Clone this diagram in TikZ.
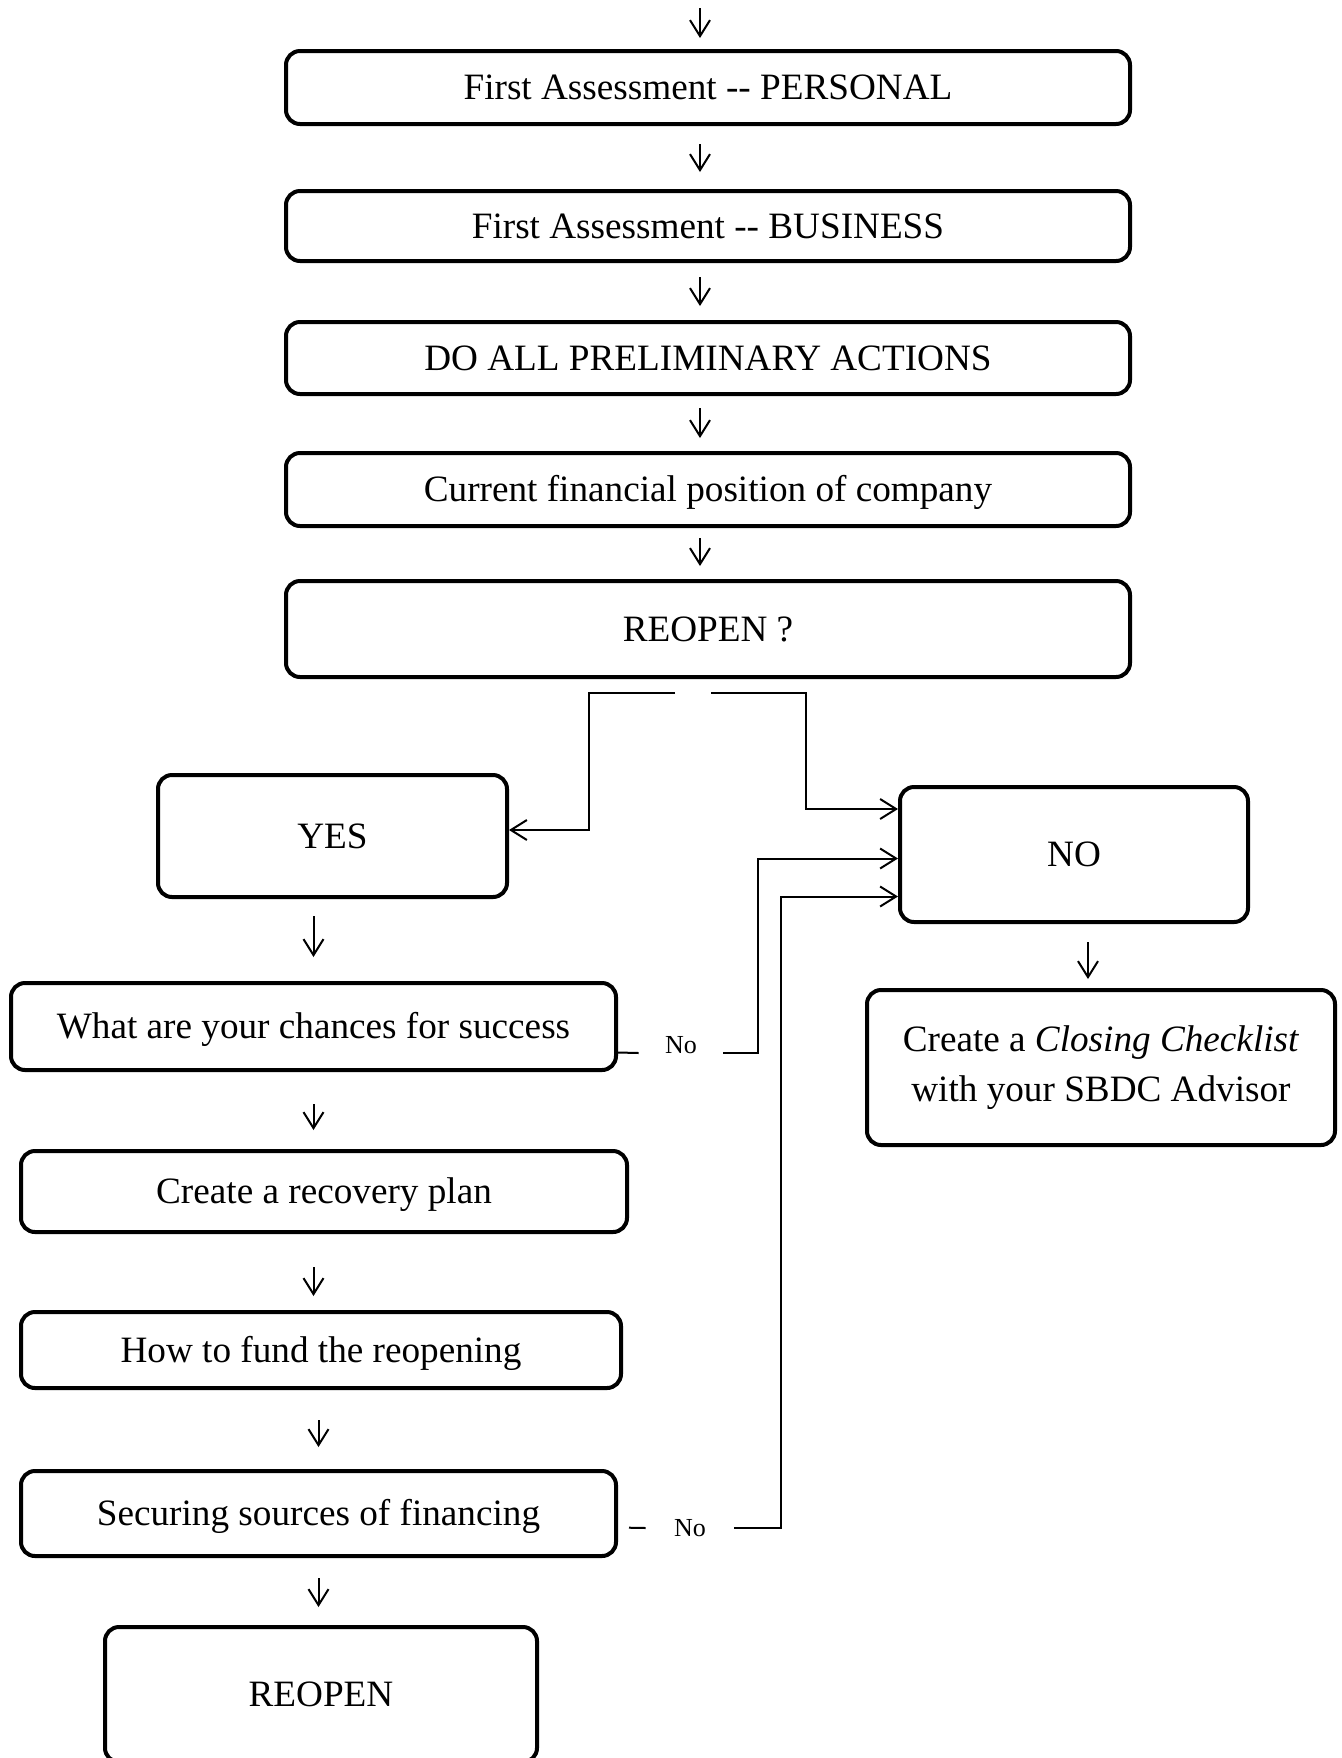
\documentclass[tikz,border=0pt]{standalone}
\usepackage{fontspec}
\setmainfont{Liberation Serif}
\usetikzlibrary{arrows.meta}
\begin{document}
\begin{tikzpicture}[
 x=0.5pt,y=-0.5pt,
 procbox/.style={draw,line width=2pt,rounded corners=7pt,
  font=\fontsize{18.6}{25}\selectfont,align=center,inner sep=0pt},
 oneline/.style={procbox,text height=12.3pt,text depth=0pt},
 arr/.style={line width=1pt,-{Straight Barb[length=8pt,width=10pt]}},
 link/.style={line width=1pt},
 nolabel/.style={font=\fontsize{13}{15}\selectfont,inner ysep=0pt}
]
\useasboundingbox (0,0) rectangle (1341,1758);
% main column
\node[oneline,minimum width=422pt,minimum height=36.5pt] (p1) at (708,87.5) {First Assessment -{}- PERSONAL};
\node[oneline,minimum width=422pt,minimum height=35pt] (p2) at (708,226) {First Assessment -{}- BUSINESS};
\node[oneline,minimum width=422pt,minimum height=36pt] (p3) at (708,358) {DO ALL PRELIMINARY ACTIONS};
\node[oneline,minimum width=422pt,minimum height=36.5pt] (p4) at (708,489.5) {Current financial position of company};
\node[oneline,minimum width=422pt,minimum height=48pt] (p5) at (708,629) {REOPEN ?};
% yes branch
\node[oneline,minimum width=174.5pt,minimum height=61pt] (yes) at (332.5,836) {YES};
\node[oneline,minimum width=302.5pt,minimum height=43.5pt] (chances) at (313.5,1026.5) {What are your chances for success};
\node[oneline,minimum width=303pt,minimum height=40.5pt] (recovery) at (324,1191.5) {Create a recovery plan};
\node[oneline,minimum width=300pt,minimum height=38pt] (fund) at (321,1350) {How to fund the reopening};
\node[oneline,minimum width=297.5pt,minimum height=42.5pt] (securing) at (318.5,1513.5) {Securing sources of financing};
\node[oneline,minimum width=216pt,minimum height=67.5pt] (final) at (321,1694.5) {REOPEN};
% no branch
\node[oneline,minimum width=174pt,minimum height=67.5pt] (no) at (1074,854.5) {NO};
\node[procbox,minimum width=234pt,minimum height=77.5pt] (closing) at (1101,1067.5) {Create a \textit{Closing Checklist}\\with your SBDC Advisor};
\node[nolabel,anchor=base,inner xsep=13pt] (noA) at (681,1053) {No};
\node[nolabel,inner xsep=14pt] (noB) at (690,1528) {No};
\coordinate (entry) at (700,8);
\coordinate (splitL) at (675,693);
\coordinate (splitR) at (711,693);

\draw[arr,shorten >=5.5pt] (entry) -- (entry |- p1.north);
\draw[arr,shorten <=9pt,shorten >=8.5pt] ([xshift=-4pt]p1.south) -- ([xshift=-4pt]p2.north);
\draw[arr,shorten <=7pt,shorten >=7pt] ([xshift=-4pt]p2.south) -- ([xshift=-4pt]p3.north);
\draw[arr,shorten <=6pt,shorten >=6.5pt] ([xshift=-4pt]p3.south) -- ([xshift=-4pt]p4.north);
\draw[arr,shorten <=5pt,shorten >=6.5pt] ([xshift=-4pt]p4.south) -- ([xshift=-4pt]p5.north);

\draw[arr] (splitL) -- ++(-86,0) |- ([yshift=3pt]yes.east);
\draw[arr] (splitR) -- ++(95,0) |- ([yshift=22.75pt]no.west);

\draw[arr,shorten <=8.5pt,shorten >=12pt] (yes.south -| chances.north) -- (chances.north);
\draw[arr,shorten <=16pt,shorten >=9.5pt] (chances.south) -- (chances.south |- recovery.north);
\draw[arr,shorten <=16.5pt,shorten >=7pt] (recovery.south -| chances.south) -- (fund.north -| chances.south);
\draw[arr,shorten <=15pt,shorten >=11pt] (fund.south -| securing.north) -- (securing.north);
\draw[arr,shorten <=10pt,shorten >=9pt] (securing.south) -- (securing.south |- final.north);

\draw[arr,shorten <=9pt,shorten >=4.5pt] ([xshift=7pt]no.south) -- ([xshift=7pt]no.south |- closing.north);

\draw[link] ([yshift=-13pt]chances.east) -- (noA.base west);
\draw[arr] (noA.base east) -- ++(35,0) |- ([yshift=-2pt]no.west);
\draw[link,shorten <=5.5pt] ([yshift=-7pt]securing.east) -- (noB.west);
\draw[arr] (noB.east) -- ++(47,0) |- ([yshift=-21pt]no.west);
\end{tikzpicture}
\end{document}
